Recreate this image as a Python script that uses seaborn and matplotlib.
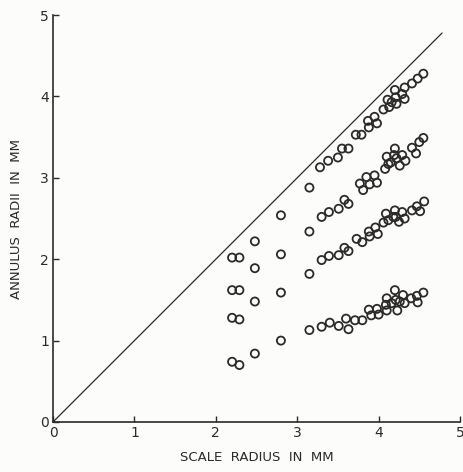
import matplotlib
matplotlib.use("Agg")
import matplotlib.pyplot as plt
import seaborn as sns
import pandas as pd

# Annulus 1 (bottom series)
x1 = [2.20, 2.29, 2.48, 2.80, 3.15, 3.30, 3.40, 3.51, 3.60, 3.63, 3.71, 3.80, 3.88, 3.91, 3.98,
      4.00, 4.09, 4.10, 4.10, 4.16, 4.20, 4.21, 4.23, 4.26, 4.30, 4.32, 4.40, 4.47, 4.48, 4.55]
y1 = [0.74, 0.70, 0.84, 1.00, 1.13, 1.17, 1.22, 1.18, 1.27, 1.14, 1.25, 1.25, 1.38, 1.31, 1.39,
      1.32, 1.44, 1.52, 1.37, 1.46, 1.62, 1.50, 1.37, 1.48, 1.56, 1.46, 1.52, 1.55, 1.47, 1.59]
# Annulus 2
x2 = [2.20, 2.29, 2.48, 2.80, 3.15, 3.30, 3.39, 3.51, 3.58, 3.63, 3.73, 3.80, 3.88, 3.89, 3.96,
      3.99, 4.06, 4.09, 4.12, 4.18, 4.20, 4.21, 4.25, 4.29, 4.32, 4.41, 4.47, 4.51, 4.56]
y2 = [1.28, 1.26, 1.48, 1.59, 1.82, 1.99, 2.04, 2.05, 2.14, 2.10, 2.25, 2.21, 2.34, 2.28, 2.39,
      2.31, 2.45, 2.56, 2.48, 2.52, 2.60, 2.52, 2.46, 2.58, 2.50, 2.60, 2.65, 2.59, 2.71]
# Annulus 3
x3 = [2.20, 2.29, 2.48, 2.80, 3.15, 3.30, 3.39, 3.51, 3.58, 3.63, 3.77, 3.81, 3.85, 3.89, 3.95,
      3.98, 4.08, 4.10, 4.12, 4.15, 4.19, 4.20, 4.22, 4.26, 4.29, 4.33, 4.41, 4.46, 4.50, 4.55]
y3 = [1.62, 1.62, 1.89, 2.06, 2.34, 2.52, 2.58, 2.62, 2.73, 2.68, 2.93, 2.85, 3.01, 2.92, 3.03,
      2.94, 3.11, 3.26, 3.17, 3.19, 3.28, 3.36, 3.24, 3.15, 3.28, 3.21, 3.37, 3.30, 3.44, 3.49]
# Annulus 4 (top series)
x4 = [2.20, 2.29, 2.48, 2.80, 3.15, 3.28, 3.38, 3.50, 3.55, 3.63, 3.72, 3.79, 3.87, 3.88, 3.95,
      3.98, 4.06, 4.11, 4.13, 4.16, 4.20, 4.21, 4.22, 4.29, 4.32, 4.32, 4.41, 4.48, 4.55]
y4 = [2.02, 2.02, 2.22, 2.54, 2.88, 3.13, 3.21, 3.25, 3.36, 3.36, 3.53, 3.53, 3.70, 3.62, 3.75,
      3.67, 3.84, 3.96, 3.87, 3.93, 4.08, 3.99, 3.91, 4.03, 4.11, 3.97, 4.16, 4.22, 4.28]

diag_x = [0, 4.78]
diag_y = [0, 4.78]
ticks = [0, 1, 2, 3, 4, 5]

frames = []
for name, xs, ys in [("1", x1, y1), ("2", x2, y2), ("3", x3, y3), ("4", x4, y4)]:
    frames.append(pd.DataFrame({"scale": xs, "annulus": ys, "ring": name}))
df = pd.concat(frames, ignore_index=True)

sns.set_style("ticks")
plt.rcParams['font.family'] = ['DejaVu Sans']
ink = "#2b2a28"
bg = "#fcfcfa"

fig = plt.figure(figsize=(4.63, 4.72), dpi=100, facecolor=bg)
ax = fig.add_axes([0.1145, 0.106, 0.879, 0.862])
ax.set_facecolor(bg)

ax.plot(diag_x, diag_y, color=ink, lw=0.9)
sns.scatterplot(data=df, x="scale", y="annulus", hue="ring",
                palette=[ink] * 4, legend=False, ax=ax,
                marker="o", s=34, facecolors="none", edgecolor=ink, linewidth=1.3)
for coll in ax.collections:
    coll.set_facecolor("none")
    coll.set_edgecolor(ink)
    coll.set_linewidth(1.3)

ax.set_xlim(0, 5)
ax.set_ylim(0, 5)
ax.set_xticks(ticks)
ax.set_yticks(ticks)
ax.set_xticklabels([str(t) for t in ticks])
ax.set_yticklabels([str(t) for t in ticks])
ax.tick_params(direction="in", length=4, width=1, colors=ink, labelsize=10, pad=3)
for sp in ["top", "right"]:
    ax.spines[sp].set_visible(False)
for sp in ["left", "bottom"]:
    ax.spines[sp].set_color(ink)
    ax.spines[sp].set_linewidth(1.2)

ax.set_xlabel("SCALE  RADIUS  IN  MM", color=ink, fontsize=9.5, labelpad=8)
ax.set_ylabel("ANNULUS  RADII  IN  MM", color=ink, fontsize=9.5, labelpad=12)

fig.savefig("out.png", dpi=100, facecolor=bg)
